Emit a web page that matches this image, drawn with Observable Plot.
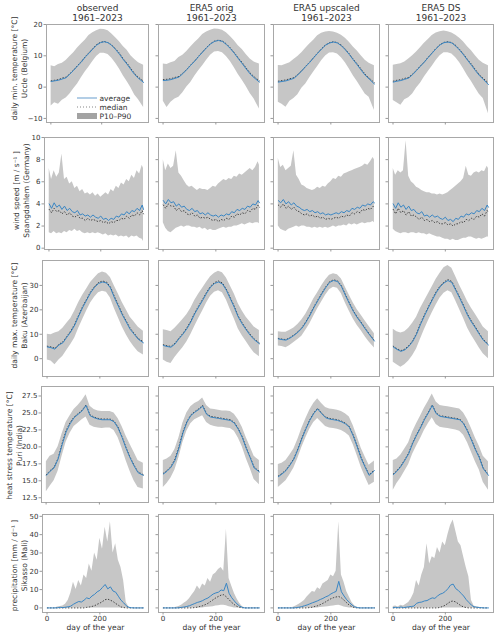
<!DOCTYPE html>
<html>
<head>
<meta charset="utf-8">
<script src="https://cdn.jsdelivr.net/npm/d3@7"></script>
<script src="https://cdn.jsdelivr.net/npm/@observablehq/plot@0.6"></script>
<style>
  body { margin: 0; background: #fff; }
  #fig { position: relative; width: 500px; height: 636px; font-family: "DejaVu Sans", sans-serif; }
  #fig svg { position: absolute; }
</style>
</head>
<body>
<div id="fig"></div>
<script>
// ---- labels ----
const sources = ["observed", "ERA5 orig", "ERA5 upscaled", "ERA5 DS"];
const period = "1961–2023";
const variables = ["daily min. temperature [°C]", "wind speed [m / s⁻¹ ]", "daily max. temperature [°C]", "heat stress temperature [°C]", "precipitation [mm / d⁻¹ ]"];
const sites = ["Uccle (Belgium)", "Spangdahlem (Germany)", "Baku (Azerbaijan)", "Puri (India)", "Sikasso (Mali)"];
const legendLabels = ["average", "median", "P10–P90"];
const xLabel = "day of the year";
const xTicks = [0, 200];
const yTicks = [[-10, 0, 10, 20], [0, 2, 4, 6, 8, 10], [0, 10, 20, 30], [12.5, 15, 17.5, 20, 22.5, 25, 27.5], [0, 10, 20, 30, 40, 50]];

// ---- days of the year at which the statistics are given ----
const daysA = [1,15,30,45,60,75,90,105,120,135,150,165,180,195,210,225,240,255,270,285,300,315,330,345,365];
const daysB = [1,10,20,30,40,50,60,70,80,90,100,110,120,130,140,150,160,170,180,190,200,210,220,230,240,250,260,270,280,290,300,310,320,330,340,350,360,365];

// ---- daily min. temperature, Uccle (observed, ERA5 orig, ERA5 upscaled, ERA5 DS) ----
const tminMean = [
  [1.8,2.0,2.2,2.6,3.0,4.2,5.4,6.8,8.0,9.6,10.8,12.2,13.4,14.2,14.5,14.2,13.3,12.0,10.5,8.8,7.3,5.6,4.0,2.8,1.5],
  [2.1,2.2,2.4,2.8,3.2,4.3,5.6,7.0,8.3,9.8,11.2,12.6,13.8,14.6,14.9,14.6,13.6,12.3,10.8,9.1,7.5,5.8,4.2,3.0,1.6],
  [1.6,1.8,2.0,2.4,2.8,3.9,5.2,6.6,7.9,9.4,10.8,12.2,13.4,14.1,14.4,14.1,13.2,11.9,10.4,8.7,7.1,5.4,3.8,2.6,1.0],
  [1.6,1.9,2.1,2.5,2.9,4.0,5.3,6.7,8.0,9.5,10.9,12.3,13.5,14.2,14.4,14.1,13.1,11.8,10.3,8.6,7.0,5.3,3.7,2.5,0.8]
];
const tminMedian = [
  [2.0,2.2,2.4,2.9,3.2,4.3,5.5,6.9,8.2,9.7,11.0,12.3,13.6,14.3,14.6,14.2,13.4,12.2,10.8,9.0,7.6,5.9,4.3,3.1,1.9],
  [2.4,2.5,2.7,3.1,3.4,4.5,5.7,7.1,8.4,9.9,11.3,12.7,13.9,14.7,15.0,14.7,13.8,12.5,11.0,9.3,7.8,6.1,4.5,3.3,2.0],
  [1.9,2.1,2.3,2.7,3.0,4.1,5.3,6.7,8.0,9.5,10.9,12.3,13.5,14.2,14.5,14.2,13.4,12.1,10.6,8.9,7.4,5.7,4.1,2.9,1.4],
  [1.9,2.2,2.4,2.8,3.1,4.2,5.4,6.8,8.1,9.6,11.0,12.4,13.6,14.3,14.5,14.2,13.3,12.0,10.5,8.8,7.3,5.6,4.0,2.8,1.3]
];
const tminP10 = [
  [-6.0,-5.0,-5.5,-4.2,-3.5,-2.2,-0.5,1.0,3.0,4.8,6.4,8.2,9.8,10.8,10.8,10.4,9.2,7.6,5.8,3.6,1.8,-0.2,-2.5,-4.0,-6.5],
  [-4.5,-6.5,-4.8,-3.8,-3.2,-1.8,0.0,1.5,3.5,5.2,6.8,8.6,10.2,11.2,11.4,11.0,9.8,8.2,6.2,4.0,2.2,0.2,-2.0,-3.8,-7.0],
  [-4.8,-5.5,-6.4,-4.5,-3.6,-2.4,-0.4,1.0,3.0,4.8,6.6,8.4,9.9,10.9,11.0,10.6,9.4,7.8,5.8,3.6,1.8,-0.2,-2.2,-3.2,-7.5],
  [-4.3,-5.0,-5.8,-4.0,-3.4,-2.2,-0.3,1.2,3.2,5.0,6.7,8.5,10.0,11.0,11.0,10.6,9.4,7.8,5.8,3.6,1.8,-0.3,-2.3,-3.6,-8.5]
];
const tminP90 = [
  [6.8,6.5,7.2,7.6,8.5,9.8,11.0,12.5,13.8,15.0,16.5,17.4,18.0,18.5,18.4,18.0,17.0,15.8,14.5,13.0,11.8,10.0,8.8,7.8,7.0],
  [7.4,7.2,7.8,8.2,9.5,10.2,11.4,12.8,14.2,15.4,16.8,17.6,18.2,18.6,18.5,18.2,17.4,16.2,14.8,13.2,12.0,10.4,9.0,8.0,7.4],
  [6.9,6.8,7.3,7.8,8.8,9.8,11.0,12.4,13.8,15.0,16.4,17.2,17.6,17.8,17.6,17.2,16.6,15.6,14.3,12.8,11.5,10.0,8.6,7.6,6.8],
  [7.0,7.2,7.5,8.0,9.0,10.0,11.2,12.6,14.0,15.2,16.5,17.3,17.7,17.9,17.7,17.3,16.6,15.6,14.4,12.9,11.6,10.0,8.6,7.6,6.8]
];

// ---- wind speed, Spangdahlem ----
const windMean = [
  [4.0,3.6,4.1,3.7,3.9,3.5,3.8,3.4,3.6,3.3,3.2,3.4,3.0,3.1,2.9,3.0,2.8,3.0,2.8,2.7,2.9,2.6,2.7,2.5,2.7,2.6,2.9,2.8,3.1,3.0,3.3,3.1,3.4,3.3,3.6,3.4,3.9,3.5],
  [4.3,4.0,4.4,4.1,4.2,3.8,4.0,3.7,3.8,3.5,3.4,3.6,3.3,3.4,3.1,3.2,3.0,3.2,3.0,2.9,3.0,2.8,3.0,2.9,3.1,3.0,3.3,3.2,3.5,3.4,3.6,3.5,3.8,3.7,4.0,3.9,4.3,4.1],
  [4.3,4.1,4.4,4.0,4.2,3.9,4.1,3.8,3.7,3.5,3.4,3.5,3.3,3.4,3.2,3.3,3.1,3.2,3.0,3.1,3.0,3.1,3.2,3.1,3.3,3.2,3.4,3.3,3.6,3.5,3.7,3.6,3.9,3.8,4.0,3.9,4.2,4.1],
  [4.0,3.6,4.1,3.7,3.9,3.5,3.8,3.4,3.5,3.2,3.1,3.3,2.9,3.0,2.8,3.0,2.8,2.9,2.7,2.6,2.8,2.5,2.6,2.4,2.7,2.6,2.9,2.8,3.1,3.0,3.2,3.1,3.4,3.3,3.6,3.4,3.9,3.7]
];
const windMedian = [
  [3.5,3.2,3.6,3.3,3.4,3.1,3.3,3.0,3.2,2.9,2.8,3.0,2.7,2.7,2.5,2.7,2.5,2.6,2.5,2.4,2.5,2.3,2.4,2.2,2.4,2.3,2.5,2.5,2.7,2.6,2.9,2.7,3.0,2.9,3.2,3.0,3.4,3.1],
  [3.9,3.6,4.0,3.8,3.8,3.4,3.6,3.3,3.4,3.1,3.0,3.2,2.9,3.0,2.7,2.8,2.7,2.8,2.6,2.5,2.6,2.4,2.6,2.5,2.7,2.6,2.9,2.8,3.1,3.0,3.2,3.1,3.4,3.3,3.6,3.5,3.9,3.7],
  [3.9,3.7,4.0,3.6,3.8,3.5,3.7,3.4,3.3,3.1,3.0,3.1,2.9,3.0,2.8,2.9,2.7,2.8,2.6,2.7,2.6,2.7,2.8,2.7,2.9,2.8,3.0,2.9,3.2,3.1,3.3,3.2,3.5,3.4,3.6,3.5,3.8,3.7],
  [3.5,3.1,3.6,3.2,3.4,3.0,3.3,2.9,3.0,2.8,2.6,2.8,2.5,2.6,2.4,2.5,2.3,2.4,2.2,2.2,2.3,2.1,2.2,2.0,2.2,2.2,2.4,2.3,2.6,2.5,2.7,2.6,2.9,2.8,3.1,2.9,3.4,3.2]
];
const windP10 = [
  [1.4,1.3,1.5,1.3,1.4,1.3,1.5,1.4,1.6,1.5,1.7,1.5,1.6,1.4,1.3,1.4,1.3,1.4,1.3,1.4,1.3,1.2,1.3,1.1,1.2,1.1,1.2,1.0,1.1,1.0,1.1,0.9,1.1,1.0,1.1,0.9,0.8,0.6],
  [2.3,1.8,1.5,1.4,1.6,1.8,1.9,2.0,1.9,2.0,2.0,1.9,1.9,1.8,1.9,1.7,1.8,1.6,1.7,1.6,1.6,1.7,1.8,1.9,1.8,1.9,1.9,2.0,2.0,2.1,2.2,2.1,2.2,2.3,2.2,2.3,2.3,2.2],
  [2.0,1.7,1.6,1.5,1.7,1.8,1.9,2.0,1.9,2.0,2.0,1.9,1.9,1.8,1.9,1.8,1.9,1.8,1.9,1.8,1.9,2.0,1.9,2.0,2.0,2.1,2.0,2.2,2.1,2.2,2.1,2.2,2.3,2.2,2.3,2.3,2.4,2.3],
  [1.7,1.5,1.4,1.3,1.4,1.4,1.3,1.4,1.4,1.3,1.4,1.3,1.3,1.2,1.3,1.2,1.1,1.0,1.0,0.9,0.8,0.8,0.7,0.8,0.7,0.7,0.8,0.9,0.9,1.0,1.0,0.9,0.8,0.9,0.8,0.9,1.0,1.0]
];
const windP90 = [
  [7.2,6.2,7.0,6.4,6.8,8.5,6.2,6.4,5.8,6.0,5.4,5.6,5.1,5.3,4.9,5.0,4.8,5.0,4.7,4.9,4.6,4.8,5.0,4.8,5.3,5.1,5.6,5.4,5.9,5.7,6.2,6.0,6.6,6.3,7.0,6.7,7.5,7.2],
  [8.0,7.0,7.6,7.2,7.4,8.8,6.8,6.5,6.1,5.7,5.5,5.6,5.4,5.2,5.4,5.3,5.3,5.2,5.4,5.6,5.5,5.8,6.0,6.2,6.1,6.3,6.2,6.5,6.4,6.7,6.6,6.8,7.0,7.2,7.0,7.3,7.8,7.5],
  [8.1,7.3,7.5,7.0,7.2,7.4,8.8,6.6,6.2,5.7,5.6,5.4,5.3,5.2,5.3,5.5,5.4,5.6,5.5,5.8,6.0,6.3,6.2,6.5,6.4,6.7,6.8,6.9,7.0,7.1,7.2,7.3,7.4,7.6,7.5,7.8,8.2,8.0],
  [7.2,6.6,7.0,6.8,7.0,9.7,6.5,6.0,5.8,5.5,5.4,5.2,5.1,5.0,5.0,4.9,4.9,4.8,4.9,4.8,4.9,5.0,5.2,5.4,5.6,5.8,6.0,6.3,7.4,6.6,6.5,6.8,6.9,6.8,7.0,6.9,7.4,7.2]
];

// ---- daily max. temperature, Baku ----
const tmaxMean = [
  [4.8,4.5,3.9,5.6,6.5,8.8,11.0,13.8,17.5,21.0,24.0,27.0,29.2,30.8,31.4,31.0,29.0,25.0,21.5,18.0,15.0,12.0,10.0,8.0,6.5],
  [5.4,5.0,4.7,6.0,8.1,10.0,12.2,15.0,18.4,21.2,23.9,26.8,29.3,30.8,31.4,30.6,28.0,24.5,21.0,17.0,14.2,11.8,9.6,7.8,6.1],
  [8.1,7.8,7.6,8.4,9.5,10.8,12.4,14.8,17.6,20.8,23.6,26.4,29.0,31.2,32.0,31.6,29.6,26.0,22.6,19.4,16.8,14.6,12.2,10.0,7.2],
  [4.8,3.8,3.0,3.6,5.0,7.0,10.0,14.0,17.5,20.8,24.0,27.0,29.4,31.0,32.0,31.2,28.0,24.8,21.4,17.8,15.0,12.6,10.0,7.6,5.6]
];
const tmaxMedian = [
  [5.1,4.8,4.3,5.9,6.9,9.1,11.4,14.2,17.9,21.4,24.4,27.4,29.6,31.2,31.8,31.4,29.4,25.5,22.0,18.4,15.4,12.4,10.4,8.3,6.9],
  [5.7,5.3,5.0,6.3,8.4,10.3,12.6,15.4,18.8,21.6,24.3,27.2,29.7,31.2,31.8,31.0,28.4,24.9,21.4,17.4,14.6,12.2,10.0,8.1,6.4],
  [8.3,8.0,7.8,8.6,9.7,11.0,12.7,15.1,17.9,21.1,23.9,26.7,29.3,31.5,32.3,31.9,29.9,26.3,22.9,19.7,17.1,14.9,12.5,10.2,7.4],
  [5.1,4.1,3.3,3.9,5.3,7.3,10.4,14.4,17.9,21.2,24.4,27.4,29.8,31.4,32.4,31.6,28.4,25.2,21.8,18.2,15.4,13.0,10.4,7.9,5.9]
];
const tmaxP10 = [
  [-0.5,-1.0,-2.5,-0.5,1.0,3.5,5.8,8.5,12.5,16.0,19.5,22.8,25.2,27.0,27.6,27.2,24.8,20.5,16.8,13.0,9.8,7.0,4.8,2.8,1.5],
  [-0.5,-1.5,-2.0,0.5,2.5,4.5,6.8,9.8,13.2,16.5,19.5,22.8,25.6,27.2,27.8,27.0,24.0,20.0,16.2,12.2,9.4,7.0,4.6,2.4,0.8],
  [5.2,5.0,4.5,5.4,6.6,7.8,9.2,11.6,14.2,17.4,20.4,23.2,26.0,28.2,29.2,28.8,26.6,22.8,19.4,16.2,13.6,11.4,9.0,6.8,4.4],
  [-1.5,-2.5,-3.5,-2.5,-1.0,1.2,4.0,8.0,11.8,15.4,18.8,22.0,24.8,26.8,27.8,27.0,23.6,20.0,16.4,12.6,9.6,7.0,4.4,2.0,0.0]
];
const tmaxP90 = [
  [10.0,9.8,10.5,11.0,12.5,14.5,16.5,19.5,23.0,26.0,28.5,31.2,33.0,34.8,35.5,35.0,33.2,29.8,26.5,23.0,20.0,17.0,15.0,13.0,11.2],
  [11.8,11.5,11.0,12.5,14.2,16.0,18.0,20.5,23.8,26.5,28.8,31.3,33.5,35.0,35.8,35.2,33.0,29.8,26.5,22.5,19.5,17.0,15.0,13.0,11.5],
  [11.0,10.8,10.8,11.6,12.6,14.0,15.8,18.2,21.2,24.4,27.0,29.8,32.2,34.2,34.8,34.4,32.6,29.2,26.0,22.8,20.0,17.8,15.4,13.2,10.2],
  [12.0,11.0,10.5,11.0,12.5,14.5,17.0,20.5,23.5,26.5,29.5,32.5,35.0,37.2,38.2,37.0,33.5,30.0,26.8,23.4,20.6,18.2,15.6,13.0,11.0]
];

// ---- heat stress temperature, Puri ----
const heatMean = [
  [15.8,16.4,16.9,18.2,20.3,22.2,23.4,24.3,24.8,25.3,26.1,24.6,24.3,24.1,24.0,24.0,24.0,23.7,22.8,21.4,19.8,18.4,17.2,16.2,15.8],
  [16.0,16.4,17.0,18.0,19.8,22.0,23.6,24.6,25.1,25.5,26.0,24.8,24.4,24.3,24.2,24.1,24.0,23.9,23.5,22.6,21.4,19.8,18.4,16.9,16.3],
  [15.6,16.0,16.5,17.3,18.2,19.6,21.2,22.6,23.9,24.9,25.6,24.9,24.3,24.1,24.0,23.9,23.7,23.4,22.9,21.6,20.0,18.3,17.0,15.8,16.5],
  [15.9,16.4,17.1,18.0,19.0,20.5,21.7,22.8,24.0,25.0,26.1,24.9,24.5,24.4,24.3,24.2,24.1,24.0,23.4,22.3,21.0,19.6,18.4,16.8,15.8]
];
const heatMedian = [
  [15.9,16.5,17.0,18.3,20.5,22.4,23.6,24.4,24.9,25.4,26.2,24.7,24.4,24.2,24.1,24.1,24.1,23.8,22.9,21.5,19.9,18.5,17.3,16.3,15.9],
  [16.1,16.5,17.1,18.2,20.0,22.2,23.7,24.7,25.2,25.6,26.1,24.9,24.5,24.4,24.3,24.2,24.1,24.0,23.6,22.7,21.5,19.9,18.5,17.0,16.4],
  [15.7,16.1,16.6,17.4,18.3,19.7,21.3,22.7,24.0,25.0,25.7,25.0,24.4,24.2,24.1,24.0,23.8,23.5,23.0,21.7,20.1,18.4,17.1,15.9,16.6],
  [16.0,16.5,17.2,18.1,19.1,20.6,21.8,22.9,24.1,25.1,26.2,25.0,24.6,24.5,24.4,24.3,24.2,24.1,23.5,22.4,21.1,19.7,18.5,16.9,15.9]
];
const heatP10 = [
  [13.4,14.2,15.0,16.4,18.6,20.7,22.0,23.0,23.5,24.0,24.4,23.2,22.9,22.8,22.7,22.8,22.8,22.4,21.4,19.8,18.0,16.4,15.0,14.0,13.8],
  [14.0,14.6,15.4,16.6,18.4,20.6,22.3,23.4,24.0,24.3,24.6,23.6,23.2,23.0,22.9,22.9,22.8,22.7,22.3,21.3,20.0,18.3,16.8,15.2,14.4],
  [14.0,14.5,15.0,15.9,16.9,18.3,19.9,21.3,22.6,23.6,24.2,23.6,23.0,22.8,22.7,22.6,22.4,22.1,21.6,20.3,18.7,17.0,15.6,14.3,14.8],
  [13.6,14.6,15.4,16.4,17.4,18.9,20.1,21.2,22.4,23.4,24.3,23.3,22.9,22.8,22.7,22.6,22.5,22.3,21.7,20.6,19.2,17.8,16.6,14.8,13.6]
];
const heatP90 = [
  [17.8,18.6,18.9,20.0,21.9,23.6,24.6,25.5,26.1,26.8,27.7,26.0,25.5,25.3,25.2,25.2,25.2,25.0,24.2,23.0,21.6,20.4,19.2,18.0,17.6],
  [18.0,18.2,18.6,19.6,21.3,23.5,25.0,25.9,26.4,26.7,27.2,26.1,25.6,25.5,25.4,25.3,25.3,25.2,24.8,24.0,22.9,21.4,20.0,18.6,18.0],
  [17.4,17.6,18.0,18.8,19.7,21.1,22.7,24.1,25.4,26.4,27.1,26.4,25.8,25.6,25.5,25.4,25.2,24.9,24.4,23.1,21.5,19.8,18.5,17.3,17.9],
  [18.0,18.2,18.8,19.7,20.6,22.2,23.4,24.5,25.7,26.7,27.8,26.6,26.1,26.0,25.9,25.8,25.7,25.6,25.0,24.0,22.7,21.3,20.1,18.6,17.8]
];

// ---- precipitation, Sikasso ----
const precipMean = [
  [0,0,0,0,0.1,0.3,0.2,0.4,0.6,1.0,2.0,2.8,3.5,3.2,4.2,5.5,5.0,6.5,7.4,8.8,9.6,11.2,12.8,10.4,11.5,9.2,8.6,6.4,4.2,2.8,1.2,0.3,0.1,0,0,0,0,0],
  [0,0,0,0,0,0,0.1,0.3,0.5,0.8,1.2,1.8,2.4,3.0,3.4,4.0,4.8,5.4,6.5,7.6,8.2,8.6,9.8,9.4,13.5,8.0,5.6,3.8,2.2,1.0,0.3,0,0,0,0,0,0,0],
  [0,0,0,0,0,0,0,0.2,0.4,0.7,1.2,1.6,2.2,2.8,3.3,3.9,4.6,5.2,6.0,6.6,7.6,8.4,9.0,14.5,8.8,6.5,4.5,3.0,1.6,0.6,0.2,0,0,0,0,0,0,0],
  [0.2,0.3,0.1,0.5,0.2,0.4,0.6,0.8,1.0,2.5,3.0,3.2,3.8,4.0,4.8,5.5,5.2,6.5,7.5,8.0,9.0,10.5,12.5,13.0,10.5,9.5,8.0,6.5,4.5,3.0,1.5,0.6,0.4,0.2,0.1,0,0,0]
];
const precipMedian = [
  [0,0,0,0,0,0,0,0,0,0,0,0,0,0,0,0.3,0.5,0.8,1.2,2.0,2.6,3.5,4.5,4.8,4.2,3.5,2.4,1.5,0.5,0.2,0,0,0,0,0,0,0,0],
  [0,0,0,0,0,0,0,0,0,0,0,0,0.2,0.4,0.8,1.2,1.8,2.5,3.5,4.5,5.5,6.3,7.0,7.2,6.0,4.5,3.0,1.8,0.8,0.3,0.1,0,0,0,0,0,0,0],
  [0,0,0,0,0,0,0,0,0,0,0,0,0.2,0.4,0.8,1.2,1.8,2.5,3.3,4.2,5.0,5.6,6.0,6.2,5.5,4.2,2.8,1.5,0.6,0.2,0,0,0,0,0,0,0,0],
  [0,0,0,0,0,0,0,0,0,0,0,0,0,0,0,0,0,0,0.3,0.8,1.5,2.5,3.5,3.8,3.2,2.2,1.2,0.5,0.2,0,0,0,0,0,0,0,0,0]
];
const precipP10 = [
  [0,0,0,0,0,0,0,0,0,0,0,0,0,0,0,0,0,0,0,0,0,0,0,0,0,0,0,0,0,0,0,0,0,0,0,0,0,0],
  [0,0,0,0,0,0,0,0,0,0,0,0,0,0,0,0,0.2,0.3,0.5,0.7,1.0,1.2,1.5,1.5,1.2,0.6,0.3,0,0,0,0,0,0,0,0,0,0,0],
  [0,0,0,0,0,0,0,0,0,0,0,0,0,0,0,0,0.2,0.3,0.5,0.6,0.9,1.1,1.3,1.4,1.1,0.5,0.2,0,0,0,0,0,0,0,0,0,0,0],
  [0,0,0,0,0,0,0,0,0,0,0,0,0,0,0,0,0,0,0,0,0,0,0,0,0,0,0,0,0,0,0,0,0,0,0,0,0,0]
];
const precipP90 = [
  [0,0,0,0,0.5,0.8,1.0,2.0,4.0,8.0,14.0,10.0,15.0,12.0,18.0,16.0,24.0,20.0,30.0,26.0,38.0,32.0,44.0,36.0,47.0,30.0,35.0,26.0,22.0,15.0,3.0,0.5,0,0,0,0,0,0],
  [0,0,0,0,0,0.3,0.8,1.5,2.5,3.5,5.0,7.0,9.0,12.0,10.0,13.0,12.0,16.0,14.0,18.0,19.0,21.0,22.0,20.0,43.0,16.0,12.0,8.0,5.0,2.5,0.8,0,0,0,0,0,0,0],
  [0,0,0,0,0,0,0.5,1.2,2.0,3.0,4.0,6.0,7.5,9.0,8.5,11.0,10.0,13.0,14.0,15.0,18.0,17.0,20.0,47.0,18.0,14.0,9.0,6.0,3.0,1.2,0.3,0,0,0,0,0,0,0],
  [0.8,1.0,0.5,1.5,1.0,2.0,3.0,5.0,8.0,15.0,12.0,18.0,22.0,35.0,24.0,28.0,27.0,33.0,30.0,36.0,34.0,40.0,45.0,48.0,42.0,36.0,34.0,28.0,22.0,17.0,4.0,1.0,0.5,0.3,0,0,0,0]
];

// ---- one entry per row of panels ----
const rows = [
  {days: daysA, mean: tminMean, median: tminMedian, p10: tminP10, p90: tminP90},
  {days: daysB, mean: windMean, median: windMedian, p10: windP10, p90: windP90},
  {days: daysA, mean: tmaxMean, median: tmaxMedian, p10: tmaxP10, p90: tmaxP90},
  {days: daysA, mean: heatMean, median: heatMedian, p10: heatP10, p90: heatP90},
  {days: daysB, mean: precipMean, median: precipMedian, p10: precipP10, p90: precipP90}
];
rows.forEach((row, r) => ["mean", "median", "p10", "p90"].forEach(k => row[k].forEach((s, c) => {
  if (s.length !== row.days.length) throw new Error(`row ${r} ${k} col ${c}: ${s.length} != ${row.days.length}`);
})));

// ---- page layout (pixels) ----
const rowBox = [[24, 122], [137, 249], [260, 376], [386, 502], [514, 612]];
const colBox = [[46, 148], [158, 264], [273, 379], [388, 493]];
const firstColLeft = [46, 44, 42, 41, 42];
const yDomains = [[-11.3, 20], [-0.12, 10], [-7.3, 40.2], [11.8, 28.9], [-2.5, 51]];
const xDomain = [-17.25, 384.25];
const varLabelX = [14.5, 16, 14.5, 9.5, 14.5];   // centre of the variable line
const siteLabelX = [24.5, 26, 24.5, 19.5, 24.5]; // centre of the site line
const yLabelY = [68, 190, 315, 445, 565];
const minus = d => d < 0 ? "−" + Math.abs(d) : String(d);
const yFormats = [minus, String, String, d3.format(".1f"), String];

const ink = "#333";
const fig = document.getElementById("fig");

function panel(r, c) {
  const [T, B] = rowBox[r];
  const L = c === 0 ? firstColLeft[r] : colBox[c][0];
  const R = colBox[c][1];
  const left = c === 0 ? 0 : L - 8;
  const top = r === 0 ? 0 : T - 4;
  const right = R + 4;
  const bottom = r === 4 ? 636 : B + 7;
  const row = rows[r];
  const table = row.days.map((day, i) => ({
    day, mean: row.mean[c][i], median: row.median[c][i], lo: row.p10[c][i], hi: row.p90[c][i]
  }));

  const marks = [
    Plot.areaY(table, {x: "day", y1: "lo", y2: "hi", fill: "#c6c6c6", clip: true}),
    Plot.lineY(table, {x: "day", y: "median", stroke: "#222", strokeWidth: 0.8, strokeDasharray: "0.7 2.3", clip: true}),
    Plot.lineY(table, {x: "day", y: "mean", stroke: "#3a86c4", strokeWidth: 1, clip: true}),
    Plot.frame({stroke: "#a8a8a8"}),
    Plot.axisX({ticks: xTicks, tickSize: 2.5, tickPadding: 1, stroke: "#999", fill: ink, fontSize: 7.2,
      label: null, tickFormat: r === 4 ? d => String(d) : () => ""}),
    Plot.axisY({ticks: yTicks[r], tickSize: 2.5, tickPadding: 1.5, stroke: "#999", fill: ink, fontSize: 7,
      label: null, tickFormat: c === 0 ? yFormats[r] : () => ""})
  ];
  if (r === 0) {
    marks.push(Plot.text([`${sources[c]}\n${period}`], {
      frameAnchor: "top", dy: 12.3 - T, lineAnchor: "middle", lineHeight: 1.11,
      fontSize: 9, fill: ink
    }));
  }
  if (r === 4) {
    marks.push(Plot.text([xLabel], {
      frameAnchor: "bottom", dy: 626.7 - B, lineAnchor: "middle", fontSize: 7.6, fill: ink
    }));
  }
  if (c === 0) {
    const dy = yLabelY[r] - (T + B) / 2;
    marks.push(Plot.text([variables[r]], {
      frameAnchor: "left", rotate: -90, dx: varLabelX[r] - L, dy,
      textAnchor: "middle", lineAnchor: "middle", fontSize: 7.5, fill: ink
    }));
    marks.push(Plot.text([sites[r]], {
      frameAnchor: "left", rotate: -90, dx: siteLabelX[r] - L, dy,
      textAnchor: "middle", lineAnchor: "middle", fontSize: 7.5, fill: ink
    }));
  }

  const svg = Plot.plot({
    width: right - left,
    height: bottom - top,
    marginLeft: L - left,
    marginRight: right - R,
    marginTop: T - top,
    marginBottom: bottom - B,
    x: {domain: xDomain},
    y: {domain: yDomains[r]},
    style: {background: "transparent", overflow: "visible", fontFamily: "DejaVu Sans", fontSize: "7.2px", color: ink},
    marks
  });
  svg.style.left = left + "px";
  svg.style.top = top + "px";
  svg.style.maxWidth = "none";
  fig.appendChild(svg);
}

for (let r = 0; r < rows.length; r++) for (let c = 0; c < sources.length; c++) panel(r, c);

// ---- legend inside the first panel ----
const legend = d3.select(fig).append("svg")
  .attr("width", 500).attr("height", 636)
  .style("left", "0px").style("top", "0px").style("pointer-events", "none");
const lx0 = 77, lx1 = 97, ly = [98, 107, 116];
legend.append("line").attr("x1", lx0).attr("x2", lx1).attr("y1", ly[0]).attr("y2", ly[0])
  .attr("stroke", "#8ab3d8").attr("stroke-width", 1.3);
legend.append("line").attr("x1", lx0).attr("x2", lx1).attr("y1", ly[1]).attr("y2", ly[1])
  .attr("stroke", "#222").attr("stroke-width", 0.8).attr("stroke-dasharray", "0.7 2.3");
legend.append("rect").attr("x", lx0).attr("y", ly[2] - 3).attr("width", lx1 - lx0).attr("height", 6)
  .attr("fill", "#a3a3a3");
legend.selectAll("text.lab").data(legendLabels).join("text")
  .attr("x", 99.5).attr("y", (d, i) => ly[i]).attr("dy", "0.35em")
  .attr("font-family", "DejaVu Sans").attr("font-size", 7.5).attr("fill", ink)
  .text(d => d);
</script>
</body>
</html>
